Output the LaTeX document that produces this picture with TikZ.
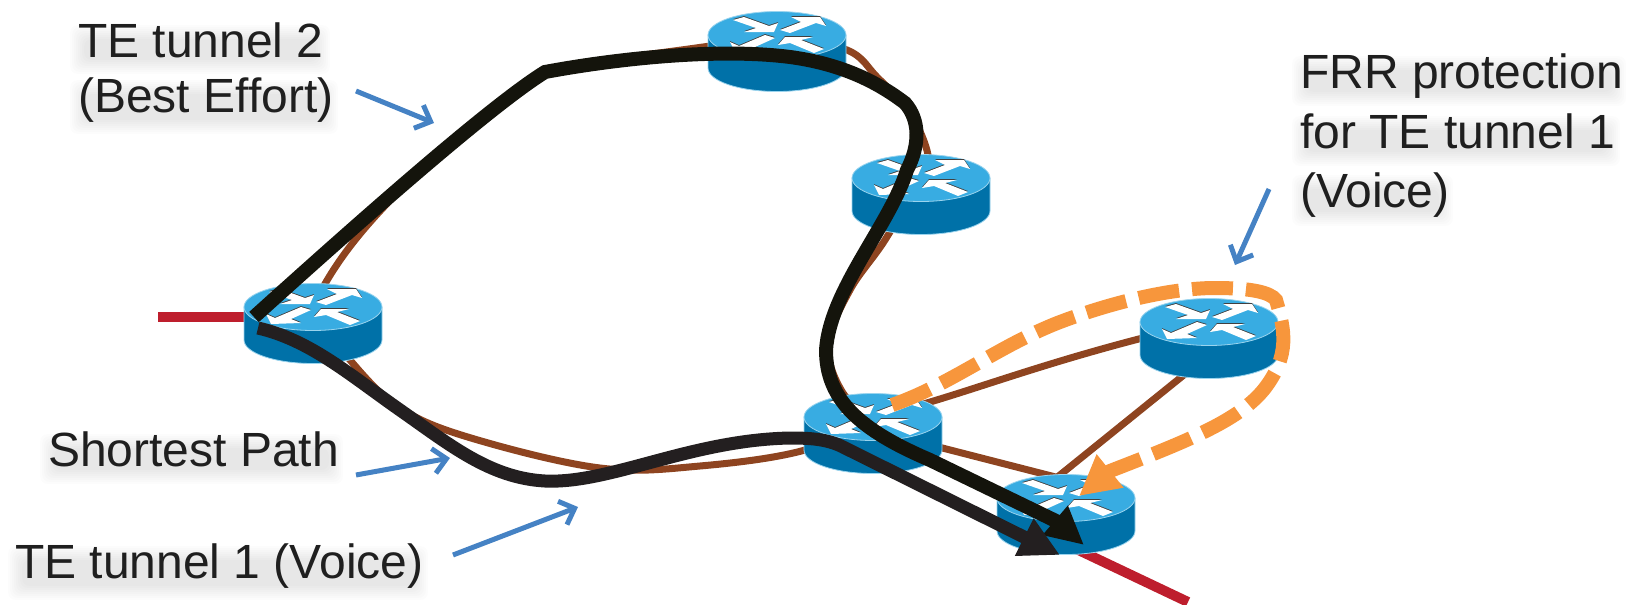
\documentclass[tikz,border=0pt]{standalone}
\usepackage{fontspec}
\setmainfont{Liberation Sans}
\usetikzlibrary{arrows.meta}
\definecolor{rtop}{HTML}{38ACE2}
\definecolor{rbody}{HTML}{0071A8}
\definecolor{redge}{HTML}{9AD4EE}
\definecolor{linkred}{HTML}{BE1E2D}
\definecolor{linkbrown}{HTML}{8E4420}
\definecolor{tunblack}{HTML}{14140C}
\definecolor{tundark}{HTML}{231F20}
\definecolor{frrorange}{HTML}{F7963C}
\definecolor{noteblue}{HTML}{4582C4}
\newcommand{\rtarrow}[1]{%
  \fill[black!75,yshift=0.9pt] plot coordinates {#1} -- cycle;
  \fill[white] plot coordinates {#1} -- cycle;}
\newcommand{\softband}[4]{%
  \foreach \g in {0,2,4,6,8,10,12,14}{\fill[black,opacity=.011,rounded corners=8pt] (#1-8+\g,#2-6+\g) rectangle (#3+8-\g,#4+8-\g);}}
\tikzset{
  router/.pic={
    \path[fill=rbody,draw=redge,line width=.8pt] (-69,0) -- (-69,33) arc[start angle=180,end angle=360,x radius=69pt,y radius=23.5pt] -- (69,0) -- cycle;
    \path[fill=rtop,draw=redge,line width=.8pt] (0,0) circle[x radius=69pt,y radius=23.5pt];
    \rtarrow{(-44,-15) (-33,-18) (-8,-9) (1,-12) (-3,-3) (-33,-3) (-21,-7)}
    \rtarrow{(3,-5) (24,-13) (14,-18) (43,-18) (49,-9) (39,-12) (13,-2)}
    \rtarrow{(-2,3) (-12,0) (-38,11) (-47,7) (-42,17) (-12,16) (-22,12)}
    \rtarrow{(1,10) (8,2) (36,2) (24,5) (47,14) (37,18) (13,8)}
  },
  redlink/.style={draw=linkred,line width=10pt},
  brownlink/.style={draw=linkbrown,line width=7pt},
  tunnelone/.style={draw=tundark,line width=13pt,-{Triangle[length=40pt,width=39pt]}},
  tunneltwo/.style={draw=tunblack,line width=14pt,-{Triangle[length=38pt,width=36pt]}},
  frr/.style={draw=frrorange,line width=14pt,dash pattern=on 41pt off 13pt,-{Triangle[length=40pt,width=40pt]}},
  note/.style={draw=noteblue,line width=5pt,-{Straight Barb[length=13pt,width=25pt,line width=5pt]}},
  label/.style={anchor=base west,inner sep=0pt,font=\fontsize{48}{48}\selectfont,text=black!88},
}
\begin{document}
\begin{tikzpicture}[x=1pt,y=-1pt]
\useasboundingbox (0,0) rectangle (1628,605);
% anchors
\coordinate (r1) at (313,307);
\coordinate (r2) at (777,35);
\coordinate (r3) at (921,178);
\coordinate (r4) at (1209,322);
\coordinate (r5) at (873,417);
\coordinate (r6) at (1066,498);
\coordinate (inL) at (158,317);
\coordinate (inR) at (270,317);
\coordinate (outL) at (1070,546);
\coordinate (outR) at (1188,602);
\coordinate (b46a) at (1195,366);
\coordinate (b46b) at (1050,483);
\coordinate (b56a) at (880,432);
\coordinate (b56b) at (1075,482);
\coordinate (t2s) at (254,317);
\coordinate (t2e) at (1084,545);
\coordinate (t1s) at (258,328);
\coordinate (t1e) at (1060,555);
\coordinate (fs) at (892,405);
\coordinate (fe) at (1079,496);
\coordinate (n1a) at (356,91);  \coordinate (n1b) at (434,123);
\coordinate (n2a) at (356,475); \coordinate (n2b) at (450,458);
\coordinate (n3a) at (453,555); \coordinate (n3b) at (578,507);
\coordinate (n4a) at (1269,189);\coordinate (n4b) at (1235,265);
% text shadows
\softband{78}{31}{322}{66}
\softband{78}{86}{330}{126}
\softband{48}{440}{335}{476}
\softband{16}{552}{420}{592}
\softband{1300}{62}{1618}{98}
\softband{1300}{122}{1612}{158}
\softband{1300}{181}{1445}{218}
% links
\draw[redlink] (inL) -- (inR);
\draw[redlink] (outL) -- (outR);
\draw[brownlink] (r1) .. controls (335,260) and (365,225) .. (410,180) .. controls (450,140) and (500,100) .. (543,72) .. controls (600,58) and (700,50) .. (r2);
\draw[brownlink] plot[smooth,tension=.6] coordinates {(r2) (847,50) (877,77) (910,113) (928,155) (r3)};
\draw[brownlink] plot[smooth,tension=.6] coordinates {(r3) (885,240) (850,290) (828,345) (843,393) (r5)};
\draw[brownlink] plot[smooth,tension=.6] coordinates {(r1) (350,360) (400,408) (471,438) (600,468) (700,466) (805,450) (r5)};
\draw[brownlink] (r5) .. controls (960,398) and (1040,360) .. (r4);
\draw[brownlink] (b56a) -- (b56b);
\draw[brownlink] (b46a) -- (b46b);
% routers
\pic at (r1) {router};
\pic at (r2) {router};
\pic at (r3) {router};
\pic at (r4) {router};
\pic at (r5) {router};
\pic at (r6) {router};
% tunnels
\draw[tunneltwo] (t2s) .. controls (400,185) and (500,100) .. (545,72) .. controls (620,58) and (720,48) .. (790,57) .. controls (850,65) and (885,88) .. (905,103) .. controls (920,120) and (920,145) .. (907,170) .. controls (890,225) and (830,290) .. (826,350) .. controls (826,400) and (860,430) .. (930,460) -- (1056,521) -- (t2e);
\draw[tunnelone] (t1s) .. controls (310,340) and (350,375) .. (400,410) .. controls (450,445) and (490,478) .. (545,481) .. controls (610,484) and (690,440) .. (790,438) .. controls (815,438) and (830,440) .. (845,448) -- (1024,537) -- (t1e);
\draw[frr] (fs) .. controls (950,385) and (1000,345) .. (1060,322) .. controls (1110,303) and (1170,288) .. (1215,288) .. controls (1250,288) and (1270,292) .. (1276,300) .. controls (1285,330) and (1290,355) .. (1265,388) .. controls (1240,420) and (1190,440) .. (1110,471) -- (fe);
% notes
\draw[note] (n1a) -- (n1b);
\draw[note] (n2a) -- (n2b);
\draw[note] (n3a) -- (n3b);
\draw[note] (n4a) -- (n4b);
% labels
\node[label] (lt2a) at (78,57) {TE tunnel 2};
\node[label] (lt2b) at (78,112) {(Best Effort)};
\node[label] (lsp) at (48,466) {Shortest Path};
\node[label] (lt1) at (15,578) {TE tunnel 1 (Voice)};
\node[label] (lf1) at (1300,88) {FRR protection};
\node[label] (lf2) at (1300,148) {for TE tunnel 1};
\node[label] (lf3) at (1300,207) {(Voice)};
\end{tikzpicture}
\end{document}
